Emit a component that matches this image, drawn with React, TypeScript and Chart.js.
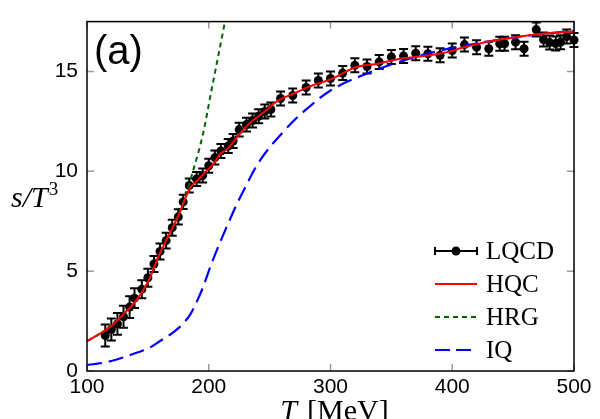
import React, { useEffect, useRef } from "react";
import { Chart, registerables } from "chart.js";

Chart.register(...registerables);

// ---- Data ----
const lqcdT = [115, 120, 125, 130, 135, 139, 145, 150, 155, 160, 165, 170, 175, 179, 184, 190, 195, 200, 205, 210, 216, 220, 225, 231, 236, 241, 246, 251, 259, 269, 280, 290, 300, 310, 320, 330, 340, 350, 360, 370, 380, 390, 400, 410, 420, 430, 439, 443, 452, 459, 469, 475, 480, 485, 489, 494, 500];
const lqcdS = [1.78, 2.08, 2.36, 2.72, 3.2, 3.65, 4.09, 4.67, 5.36, 5.99, 6.53, 7.18, 7.72, 8.47, 9.29, 9.62, 9.79, 10.28, 10.69, 11.02, 11.27, 11.52, 12.09, 12.34, 12.55, 12.76, 13.0, 13.1, 13.65, 13.8, 14.2, 14.55, 14.65, 14.92, 15.31, 15.25, 15.48, 15.73, 15.78, 15.92, 15.89, 15.81, 16.05, 16.35, 16.22, 16.14, 16.39, 16.39, 16.47, 16.14, 17.1, 16.6, 16.45, 16.4, 16.47, 16.75, 16.58];
const lqcdErr = [0.55, 0.55, 0.55, 0.55, 0.55, 0.5, 0.45, 0.45, 0.4, 0.4, 0.4, 0.4, 0.38, 0.36, 0.35, 0.35, 0.35, 0.35, 0.35, 0.35, 0.35, 0.35, 0.35, 0.35, 0.35, 0.35, 0.35, 0.35, 0.35, 0.35, 0.35, 0.35, 0.35, 0.35, 0.35, 0.35, 0.35, 0.35, 0.35, 0.35, 0.35, 0.35, 0.35, 0.35, 0.35, 0.35, 0.35, 0.35, 0.35, 0.35, 0.35, 0.35, 0.35, 0.35, 0.35, 0.35, 0.35];

const hqcT = [100, 110, 120, 130, 140, 150, 160, 170, 176, 180, 185, 190, 197, 205, 209, 215, 224, 234, 245, 256, 270, 285, 302, 320, 340, 357, 380, 398, 406, 430, 450, 472, 500];
const hqcS = [1.5, 1.85, 2.25, 2.85, 3.5, 4.45, 5.9, 7.15, 7.9, 8.55, 9.2, 9.5, 9.95, 10.45, 10.86, 11.1, 11.77, 12.43, 12.95, 13.5, 13.9, 14.3, 14.65, 15.2, 15.4, 15.64, 15.8, 16.0, 16.15, 16.5, 16.7, 16.88, 17.0];

const hrgT = [100, 110, 120, 130, 140, 150, 160, 170, 180, 187, 195, 203, 213, 216];
const hrgS = [1.5, 1.85, 2.25, 2.85, 3.5, 4.45, 5.9, 7.15, 8.6, 10.0, 11.8, 14.3, 17.4, 18.4];

const iqT = [100, 110, 120, 130, 140, 150, 160, 170, 176, 180, 185, 190, 195, 200, 205, 210, 215, 220, 225, 230, 235, 240, 250, 260, 270, 280, 300, 330, 360, 390, 420, 450, 500];
const iqS = [0.3, 0.38, 0.5, 0.68, 0.9, 1.12, 1.5, 1.9, 2.2, 2.45, 2.85, 3.45, 4.15, 5.0, 5.8, 6.55, 7.25, 7.95, 8.6, 9.2, 9.8, 10.35, 11.2, 11.9, 12.55, 13.1, 14.05, 14.9, 15.55, 16.05, 16.4, 16.7, 17.05];

const xTicks = [100, 200, 300, 400, 500];
const yTicks = [0, 5, 10, 15];
const legendLabels = ["LQCD", "HQC", "HRG", "IQ"];

const SANS = "'Liberation Sans', Arial, sans-serif";
const SERIF = "'Liberation Serif', 'Times New Roman', serif";

const toPts = (xs: number[], ys: number[]) => xs.map((x, i) => ({ x, y: ys[i] }));

const decorPlugin = {
  id: "decor",
  beforeDatasetsDraw(chart: any) {
    const { ctx } = chart;
    const xs = chart.scales.x;
    const ys = chart.scales.y;
    ctx.save();
    ctx.strokeStyle = "#000";
    ctx.lineWidth = 2;
    lqcdT.forEach((t, i) => {
      const px = xs.getPixelForValue(t);
      const top = ys.getPixelForValue(lqcdS[i] + lqcdErr[i]);
      const bot = ys.getPixelForValue(lqcdS[i] - lqcdErr[i]);
      ctx.beginPath();
      ctx.moveTo(px, top);
      ctx.lineTo(px, bot);
      ctx.moveTo(px - 4.5, top);
      ctx.lineTo(px + 4.5, top);
      ctx.moveTo(px - 4.5, bot);
      ctx.lineTo(px + 4.5, bot);
      ctx.stroke();
    });
    ctx.restore();
  },
  afterDraw(chart: any) {
    const { ctx, chartArea } = chart;
    const { left, right, top, bottom } = chartArea;
    const xs = chart.scales.x;
    const ys = chart.scales.y;
    ctx.save();

    // inward tick marks
    ctx.strokeStyle = "#9a9a9a";
    ctx.lineWidth = 1.5;
    const tl = 7;
    xTicks.forEach((v) => {
      const px = xs.getPixelForValue(v);
      ctx.beginPath();
      ctx.moveTo(px, bottom);
      ctx.lineTo(px, bottom - tl);
      ctx.moveTo(px, top);
      ctx.lineTo(px, top + tl);
      ctx.stroke();
    });
    yTicks.forEach((v) => {
      const py = ys.getPixelForValue(v);
      ctx.beginPath();
      ctx.moveTo(left, py);
      ctx.lineTo(left + tl, py);
      ctx.moveTo(right, py);
      ctx.lineTo(right - tl, py);
      ctx.stroke();
    });

    // frame
    ctx.strokeStyle = "#000";
    ctx.lineWidth = 1.5;
    ctx.strokeRect(left, top, right - left, bottom - top);

    // panel label
    ctx.fillStyle = "#000";
    ctx.font = `40px ${SANS}`;
    ctx.textAlign = "left";
    ctx.textBaseline = "alphabetic";
    ctx.fillText("(a)", left + 7, top + 42);

    // y axis title s/T^3
    ctx.font = `italic 30px ${SERIF}`;
    ctx.fillText("s/T", 11, 207);
    const wsT = ctx.measureText("s/T").width;
    ctx.font = `19px ${SERIF}`;
    ctx.fillText("3", 11 + wsT + 1, 195);

    // x axis title T [MeV]
    ctx.font = `italic 30px ${SERIF}`;
    const wT = ctx.measureText("T").width;
    ctx.font = `30px ${SERIF}`;
    const wM = ctx.measureText("[MeV]").width;
    const gap = 10;
    const cx = (left + right) / 2 + 4;
    const sx = cx - (wT + gap + wM) / 2;
    ctx.font = `italic 30px ${SERIF}`;
    ctx.fillText("T", sx, 420);
    ctx.font = `30px ${SERIF}`;
    ctx.fillText("[MeV]", sx + wT + gap, 420);

    // legend
    const symL = right - 139;
    const symR = right - 97;
    const textX = right - 88;
    const rows = [bottom - 120, bottom - 87, bottom - 54, bottom - 21];
    ctx.font = `25px ${SERIF}`;
    ctx.textBaseline = "middle";
    // LQCD
    ctx.strokeStyle = "#000";
    ctx.lineWidth = 2;
    ctx.setLineDash([]);
    ctx.beginPath();
    ctx.moveTo(symL, rows[0]);
    ctx.lineTo(symR, rows[0]);
    ctx.moveTo(symL, rows[0] - 4);
    ctx.lineTo(symL, rows[0] + 4);
    ctx.moveTo(symR, rows[0] - 4);
    ctx.lineTo(symR, rows[0] + 4);
    ctx.stroke();
    ctx.beginPath();
    ctx.arc((symL + symR) / 2, rows[0], 4.5, 0, Math.PI * 2);
    ctx.fill();
    // HQC
    ctx.strokeStyle = "#ff0000";
    ctx.beginPath();
    ctx.moveTo(symL, rows[1]);
    ctx.lineTo(symR, rows[1]);
    ctx.stroke();
    // HRG
    ctx.strokeStyle = "#006400";
    ctx.setLineDash([5, 4]);
    ctx.beginPath();
    ctx.moveTo(symL, rows[2]);
    ctx.lineTo(symR, rows[2]);
    ctx.stroke();
    // IQ
    ctx.strokeStyle = "#0000ff";
    ctx.setLineDash([15, 6]);
    ctx.beginPath();
    ctx.moveTo(symL, rows[3]);
    ctx.lineTo(symR, rows[3]);
    ctx.stroke();
    ctx.setLineDash([]);
    ctx.fillStyle = "#000";
    legendLabels.forEach((lab, i) => ctx.fillText(lab, textX, rows[i] + 1));

    ctx.restore();
  },
};

export default function App() {
  const ref = useRef<HTMLCanvasElement | null>(null);
  useEffect(() => {
    if (!ref.current) return;
    const chart = new Chart(ref.current, {
      type: "scatter",
      data: {
        datasets: [
          {
            label: "HQC",
            data: toPts(hqcT, hqcS),
            showLine: true,
            borderColor: "#ff0000",
            borderWidth: 2,
            pointRadius: 0,
            cubicInterpolationMode: "monotone",
            order: 1,
          },
          {
            label: "HRG",
            data: toPts(hrgT, hrgS),
            showLine: true,
            borderColor: "#006400",
            borderWidth: 2,
            borderDash: [5, 4],
            pointRadius: 0,
            cubicInterpolationMode: "monotone",
            order: 2,
          },
          {
            label: "IQ",
            data: toPts(iqT, iqS),
            showLine: true,
            borderColor: "#0000ff",
            borderWidth: 2.2,
            borderDash: [15, 7],
            pointRadius: 0,
            cubicInterpolationMode: "monotone",
            order: 3,
          },
          {
            label: "LQCD",
            data: toPts(lqcdT, lqcdS),
            showLine: false,
            backgroundColor: "#000",
            borderColor: "#000",
            pointRadius: 4.5,
            pointBorderWidth: 0,
            clip: 8,
            order: 4,
          },
        ] as any,
      },
      options: {
        responsive: false,
        animation: false,
        layout: { padding: { left: 0, top: 16, right: 26, bottom: 0 } },
        plugins: { legend: { display: false }, tooltip: { enabled: false } },
        scales: {
          x: {
            type: "linear",
            min: 100,
            max: 500,
            grid: { display: false, drawTicks: false },
            border: { display: false },
            ticks: {
              stepSize: 100,
              color: "#000",
              font: { family: SANS, size: 21 },
              padding: 4,
              maxRotation: 0,
              includeBounds: false,
            },
            afterFit: (s: any) => {
              s.height = 48;
            },
          },
          y: {
            type: "linear",
            min: 0,
            max: 17.5,
            grid: { display: false, drawTicks: false },
            border: { display: false },
            ticks: {
              stepSize: 5,
              color: "#000",
              font: { family: SANS, size: 21 },
              padding: 9,
              includeBounds: false,
            },
            afterFit: (s: any) => {
              s.width = 87;
            },
          },
        },
      } as any,
      plugins: [decorPlugin],
    });
    return () => chart.destroy();
  }, []);
  return (
    <div style={{ position: "fixed", left: 0, top: 0, width: 600, height: 419, background: "#fff" }}>
      <canvas ref={ref} width={600} height={419} style={{ display: "block" }} />
    </div>
  );
}
